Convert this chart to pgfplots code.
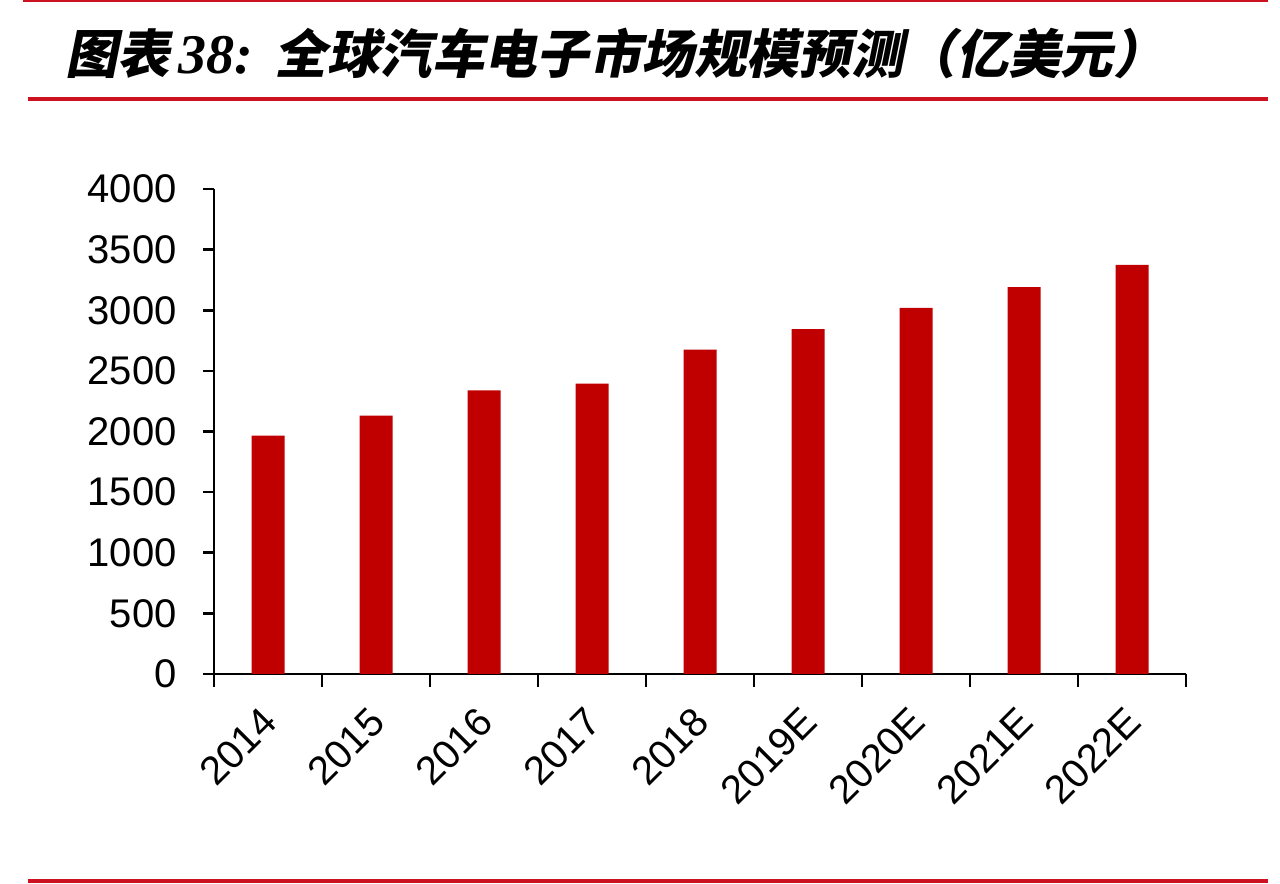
\documentclass[border=0pt]{standalone}
\usepackage{pgfplots}
\pgfplotsset{compat=1.18}
\usepackage{fontspec}
\setmainfont{Liberation Sans}
\newfontfamily\cjk[FakeSlant=0.2]{Noto Sans CJK SC}
\newfontfamily\tserif{Liberation Serif}
\definecolor{barred}{RGB}{192,0,0}
\definecolor{rulered}{RGB}{204,18,32}
\begin{document}
\begin{tikzpicture}
\path[use as bounding box] (0,0) rectangle (640bp,442bp);
% rules
\draw[rulered, line width=1bp] (11.5bp,441.5bp) -- (634bp,441.5bp);
\draw[rulered, line width=2bp] (14bp,392.5bp) -- (634bp,392.5bp);
\draw[rulered, line width=2.2bp] (14bp,1.5bp) -- (634bp,1.5bp);
% title
\node[anchor=west, inner sep=0pt, font=\fontsize{26.2bp}{30bp}\selectfont] at (32.5bp,415.5bp)
  {\cjk\bfseries 图表\hspace{4bp}{\tserif\bfseries\itshape\fontsize{28bp}{30bp}\selectfont 38:}\hspace{11bp}全球汽车电子市场规模预测（亿美元）};
\begin{axis}[
    at={(107bp,105bp)}, anchor=south west,
    scale only axis,
    width=486bp, height=242.5bp,
    xmin=-0.5, xmax=8.5,
    ymin=0, ymax=4000,
    enlargelimits=false,
    axis x line=bottom, axis y line=left,
    axis line style={-, line width=1.3bp},
    every tick/.style={black, line width=1.3bp},
    tick align=outside,
    xtick={0,...,8},
    xticklabels={2014,2015,2016,2017,2018,2019E,2020E,2021E,2022E},
    major x tick style={draw=none},
    minor xtick={-0.5,0.5,...,8.5},
    minor tick length=6.5bp,
    ytick={0,500,...,4000},
    major tick length=5.5bp,
    yticklabel style={font=\fontsize{20bp}{24bp}\selectfont, inner sep=0pt, anchor=east, xshift=-13bp},
    xticklabel style={font=\fontsize{20bp}{24bp}\selectfont, inner sep=0pt, anchor=east, yshift=-15bp, xshift=1bp, rotate=45},
    /pgf/number format/assume math mode=true,
    scaled y ticks=false,
    yticklabel={\pgfmathprintnumber[fixed,1000 sep={}]{\tick}},
]
\addplot[ybar, bar width=16.5bp, fill=barred, draw=none] coordinates {
    (0,1965) (1,2130) (2,2340) (3,2395) (4,2675)
    (5,2845) (6,3020) (7,3190) (8,3375)
};
\end{axis}
\end{tikzpicture}
\end{document}
